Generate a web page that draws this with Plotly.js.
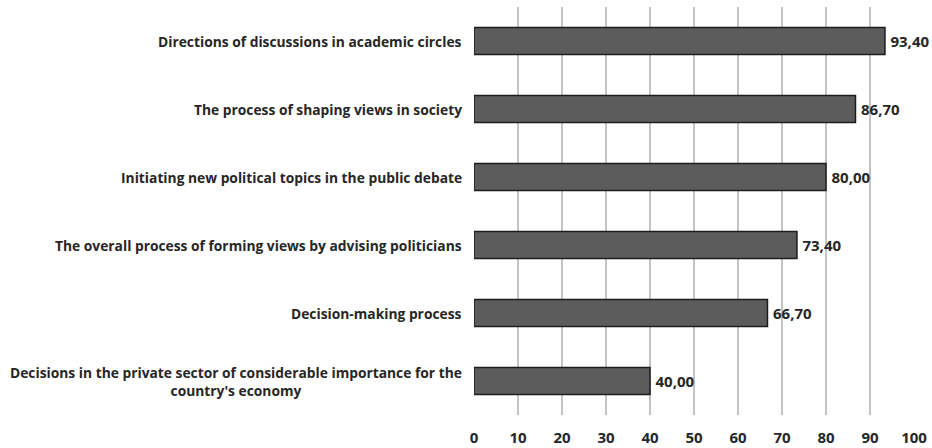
<!DOCTYPE html>
<html><head><meta charset="utf-8">
<script src="https://cdn.plot.ly/plotly-3.0.1.min.js"></script>
<style>html,body{margin:0;padding:0;background:#fff;}#c{width:932px;height:448px;}</style>
</head><body><div id="c"></div>
<script>
const categories = [
  "Directions of discussions in academic circles",
  "The process of shaping views in society",
  "Initiating new political topics in the public debate",
  "The overall process of forming views by advising politicians",
  "Decision-making process",
  "Decisions in the private sector of considerable importance for the<br>country's economy"
];
const values = [93.4, 86.7, 80.0, 73.4, 66.7, 40.0];
const tickValues = [0,10,20,30,40,50,60,70,80,90,100];

const FONT = "'Open Sans', sans-serif";
const trace = {
  type: 'bar', orientation: 'h',
  y: categories, x: values,
  width: 0.4,
  marker: {color: '#5c5c5c', line: {color: '#1c1c1c', width: 1.5}},
  text: values.map(v => '\u2009' + v.toFixed(2).replace('.', ',')),
  textposition: 'outside', cliponaxis: false, constraintext: 'none',
  textfont: {family: FONT, size: 15, color: '#262626', weight: 'bold'},
  hoverinfo: 'none'
};
const annotations = categories.map(c => ({
  xref: 'paper', yref: 'y', x: 0, y: c, xanchor: 'right', yanchor: 'middle',
  xshift: -10, text: c, showarrow: false, align: 'center',
  font: {family: FONT, size: 13.8, color: '#262626', weight: 'bold'}
}));
const layout = {
  width: 932, height: 448,
  margin: {l: 474, r: 18, t: 7, b: 33},
  paper_bgcolor: '#fff', plot_bgcolor: '#fff',
  showlegend: false,
  xaxis: {range: [0, 100], tickvals: tickValues, ticktext: tickValues.map(String),
    showgrid: true, gridcolor: '#c3c3c3', gridwidth: 1.5, zeroline: false, showline: false,
    ticks: '', ticklabelstandoff: 12,
    tickfont: {family: FONT, size: 15, color: '#262626', weight: 'bold'}, fixedrange: true},
  yaxis: {autorange: 'reversed', showticklabels: false, showgrid: false, zeroline: false, showline: false, ticks: ''},
  annotations: annotations
};
Plotly.newPlot('c', [trace], layout, {displayModeBar: false, staticPlot: true});
</script></body></html>
